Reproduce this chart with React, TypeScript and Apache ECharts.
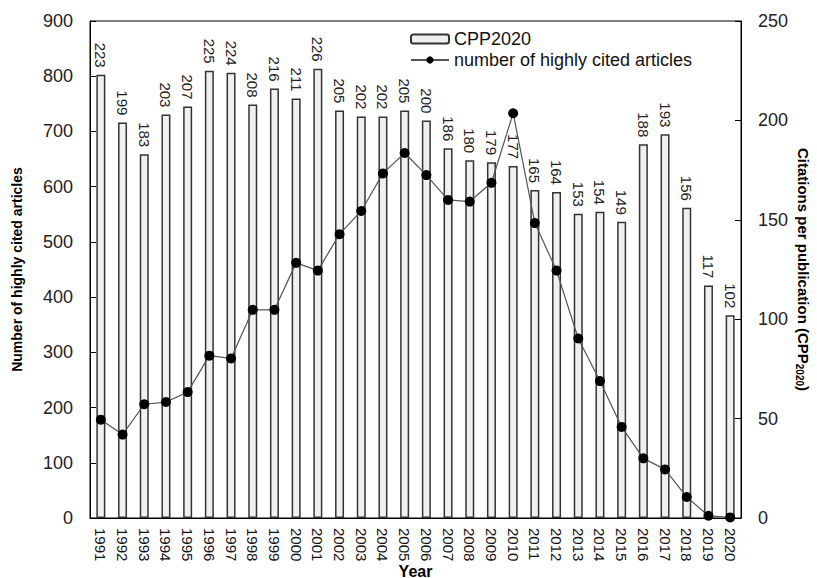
import React, { useEffect, useRef } from "react";
import * as echarts from "echarts";

const years = ["1991","1992","1993","1994","1995","1996","1997","1998","1999","2000","2001","2002","2003","2004","2005","2006","2007","2008","2009","2010","2011","2012","2013","2014","2015","2016","2017","2018","2019","2020"];
const cpp2020 = [223,199,183,203,207,225,224,208,216,211,226,205,202,202,205,200,186,180,179,177,165,164,153,154,149,188,193,156,117,102];
const highlyCited = [178,151,206,210,228,294,289,377,377,462,448,514,556,624,661,621,576,573,607,733,534,448,325,248,165,108,88,38,4,1];
const leftTicks = { min: 0, max: 900, interval: 100 };
const rightTicks = { min: 0, max: 250, interval: 50 };

const FONT = "'Liberation Sans', Arial, sans-serif";

export default function App() {
  const ref = useRef<HTMLDivElement>(null);
  useEffect(() => {
    if (!ref.current) return;
    const chart = echarts.init(ref.current, undefined, { renderer: "svg" });
    chart.setOption({
      animation: false,
      backgroundColor: "#ffffff",
      textStyle: { fontFamily: FONT },
      grid: {
        left: 90, right: 76, top: 21, bottom: 60,
        outerBoundsMode: "none",
        containLabel: false,
        show: true, borderColor: "#000", borderWidth: 1, backgroundColor: "transparent",
      },
      legend: {
        orient: "vertical",
        left: 405,
        top: 25,
        itemWidth: 38,
        itemHeight: 9,
        itemGap: 3,
        textStyle: { fontSize: 18, color: "#111", fontFamily: FONT },
        data: [
          { name: "CPP2020" },
          { name: "number of highly cited articles" },
        ],
      },
      xAxis: {
        type: "category",
        data: years,
        boundaryGap: true,
        axisLine: { lineStyle: { color: "#000", width: 1 } },
        axisTick: { show: false },
        axisLabel: { rotate: -90, fontSize: 15, color: "#111", margin: 10, fontFamily: FONT },
        name: "Year",
        nameLocation: "middle",
        nameGap: 45,
        nameMoveOverlap: false,
        nameTextStyle: { fontSize: 16, fontWeight: "bold", color: "#000", fontFamily: FONT },
      },
      yAxis: [
        {
          type: "value",
          ...leftTicks,
          splitLine: { show: false },
          axisLine: { show: true, lineStyle: { color: "#000" } },
          axisTick: { show: true, inside: true, length: 6, lineStyle: { color: "#000" } },
          axisLabel: { fontSize: 18, color: "#222", margin: 17, fontFamily: FONT },
          name: "Number of highly cited articles",
          nameLocation: "middle",
          nameRotate: 90,
          nameGap: 66,
          nameMoveOverlap: false,
          nameTextStyle: { fontSize: 14, fontWeight: "bold", color: "#000", fontFamily: FONT },
        },
        {
          type: "value",
          ...rightTicks,
          position: "right",
          splitLine: { show: false },
          axisLine: { show: true, lineStyle: { color: "#000" } },
          axisTick: { show: true, inside: true, length: 6, lineStyle: { color: "#000" } },
          axisLabel: { fontSize: 18, color: "#222", margin: 17, fontFamily: FONT },
          name: "Citations per publication (CPP{sub|2020})",
          nameLocation: "middle",
          nameRotate: -90,
          nameGap: 53,
          nameMoveOverlap: false,
          nameTextStyle: {
            fontSize: 15, fontWeight: "bold", color: "#000", fontFamily: FONT,
            rich: { sub: { fontSize: 10, fontWeight: "bold", verticalAlign: "bottom", padding: [8, 0, 0, 0], fontFamily: FONT } },
          },
        },
      ],
      series: [
        {
          name: "CPP2020",
          type: "bar",
          yAxisIndex: 1,
          data: cpp2020,
          barWidth: 9,
          itemStyle: { color: "#f0f0f0", borderColor: "#333", borderWidth: 1.5 },
          label: {
            show: true,
            position: "top",
            rotate: -90,
            align: "right",
            verticalAlign: "middle",
            distance: 7,
            fontSize: 15,
            color: "#222",
            fontFamily: FONT,
          },
          z: 2,
        },
        {
          name: "number of highly cited articles",
          type: "line",
          yAxisIndex: 0,
          data: highlyCited,
          symbol: "circle",
          symbolSize: 10,
          lineStyle: { color: "#555", width: 1.2 },
          itemStyle: { color: "#000" },
          z: 3,
        },
      ],
    });
    return () => chart.dispose();
  }, []);
  return <div ref={ref} style={{ width: 817, height: 578, position: "absolute", left: 0, top: 0 }} />;
}
